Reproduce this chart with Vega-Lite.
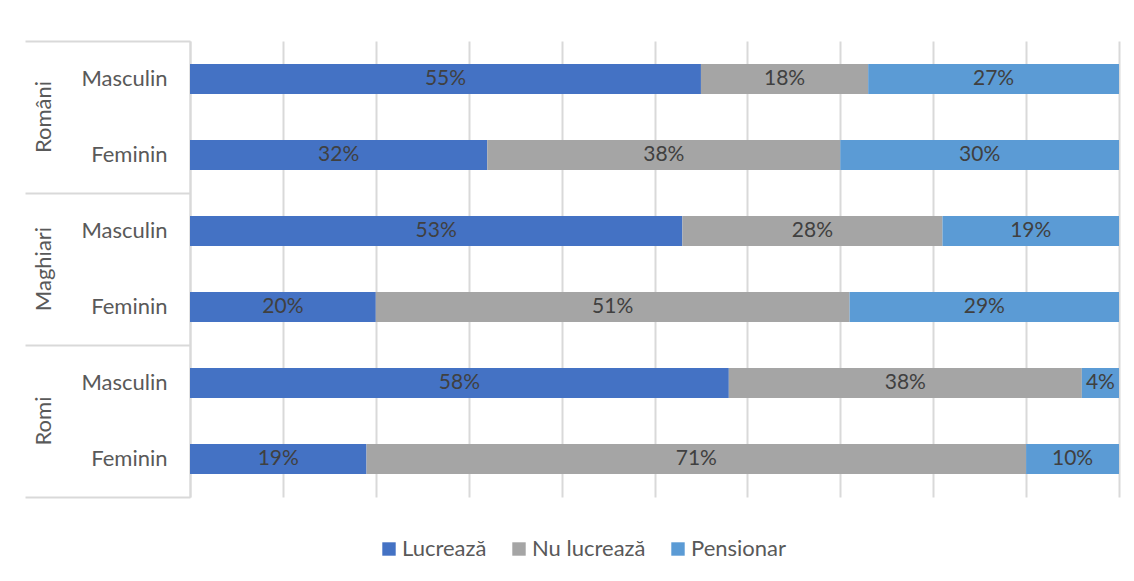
{
  "$schema": "https://vega.github.io/schema/vega-lite/v6.json",
  "width": 929,
  "height": 456,
  "autosize": {"type": "none"},
  "padding": {"left": 190, "top": 41, "right": 15, "bottom": 84},
  "background": "white",
  "config": {"view": {"stroke": null}, "font": "Lato"},
  "data": {
    "values": [
      {"grup": "Români", "rand": "Români|Masculin", "cat": "Lucrează", "val": 0.55},
      {"grup": "Români", "rand": "Români|Masculin", "cat": "Nu lucrează", "val": 0.18},
      {"grup": "Români", "rand": "Români|Masculin", "cat": "Pensionar", "val": 0.27},
      {"grup": "Români", "rand": "Români|Feminin", "cat": "Lucrează", "val": 0.32},
      {"grup": "Români", "rand": "Români|Feminin", "cat": "Nu lucrează", "val": 0.38},
      {"grup": "Români", "rand": "Români|Feminin", "cat": "Pensionar", "val": 0.30},
      {"grup": "Maghiari", "rand": "Maghiari|Masculin", "cat": "Lucrează", "val": 0.53},
      {"grup": "Maghiari", "rand": "Maghiari|Masculin", "cat": "Nu lucrează", "val": 0.28},
      {"grup": "Maghiari", "rand": "Maghiari|Masculin", "cat": "Pensionar", "val": 0.19},
      {"grup": "Maghiari", "rand": "Maghiari|Feminin", "cat": "Lucrează", "val": 0.20},
      {"grup": "Maghiari", "rand": "Maghiari|Feminin", "cat": "Nu lucrează", "val": 0.51},
      {"grup": "Maghiari", "rand": "Maghiari|Feminin", "cat": "Pensionar", "val": 0.29},
      {"grup": "Romi", "rand": "Romi|Masculin", "cat": "Lucrează", "val": 0.58},
      {"grup": "Romi", "rand": "Romi|Masculin", "cat": "Nu lucrează", "val": 0.38},
      {"grup": "Romi", "rand": "Romi|Masculin", "cat": "Pensionar", "val": 0.04},
      {"grup": "Romi", "rand": "Romi|Feminin", "cat": "Lucrează", "val": 0.19},
      {"grup": "Romi", "rand": "Romi|Feminin", "cat": "Nu lucrează", "val": 0.71},
      {"grup": "Romi", "rand": "Romi|Feminin", "cat": "Pensionar", "val": 0.10}
    ]
  },
  "layer": [
    {
      "mark": {"type": "rect", "opacity": 0},
      "encoding": {
        "y": {
          "field": "grup",
          "type": "nominal",
          "sort": ["Români", "Maghiari", "Romi"],
          "scale": {"paddingInner": 0, "paddingOuter": 0},
          "axis": {
            "orient": "left",
            "title": null,
            "domain": false,
            "ticks": true,
            "tickExtra": true,
            "bandPosition": 1,
            "tickSize": 165,
            "tickColor": "#d9d9d9",
            "tickWidth": 2,
            "labelAngle": 270,
            "labelAlign": "center",
            "labelBaseline": "alphabetic",
            "labelPadding": -25,
            "labelFontSize": 22,
            "labelColor": "#595959"
          }
        }
      }
    },
    {
      "encoding": {
        "y": {
          "field": "rand",
          "type": "nominal",
          "sort": ["Români|Masculin", "Români|Feminin", "Maghiari|Masculin", "Maghiari|Feminin", "Romi|Masculin", "Romi|Feminin"],
          "scale": {"paddingInner": 0.605, "paddingOuter": 0.3025},
          "axis": {
            "orient": "left",
            "title": null,
            "ticks": false,
            "domain": true,
            "domainColor": "#d9d9d9",
            "domainWidth": 2,
            "labelPadding": 23,
            "labelFontSize": 22,
            "labelColor": "#595959",
            "labelExpr": "split(datum.label, '|')[1]"
          }
        }
      },
      "layer": [
        {
          "mark": {"type": "bar"},
          "encoding": {
            "x": {
              "field": "val",
              "type": "quantitative",
              "stack": "zero",
              "scale": {"domain": [0, 1]},
              "axis": {
                "title": null,
                "domain": false,
                "ticks": false,
                "labels": false,
                "grid": true,
                "gridColor": "#d9d9d9",
                "gridWidth": 2,
                "values": [0, 0.1, 0.2, 0.3, 0.4, 0.5, 0.6, 0.7, 0.8, 0.9, 1]
              }
            },
            "order": {"field": "cat", "sort": "ascending"},
            "color": {
              "field": "cat",
              "type": "nominal",
              "scale": {"domain": ["Lucrează", "Nu lucrează", "Pensionar"], "range": ["#4472C4", "#A5A5A5", "#5B9BD5"]},
              "legend": {
                "orient": "none",
                "direction": "horizontal",
                "legendX": 188,
                "legendY": 497,
                "title": null,
                "symbolType": "square",
                "symbolSize": 180,
                "symbolStrokeWidth": 0,
                "symbolOpacity": 1,
                "labelFontSize": 22,
                "labelColor": "#595959",
                "labelOffset": 2,
                "columnPadding": 21,
                "padding": 0
              }
            }
          }
        },
        {
          "mark": {"type": "text", "fontSize": 21, "color": "#404040", "baseline": "middle", "align": "center"},
          "encoding": {
            "x": {"field": "val", "type": "quantitative", "stack": "zero", "bandPosition": 0.5},
            "detail": {"field": "cat", "type": "nominal"},
            "order": {"field": "cat", "sort": "ascending"},
            "text": {"field": "val", "type": "quantitative", "format": ".0%"}
          }
        }
      ]
    }
  ],
  "resolve": {"scale": {"y": "independent"}}
}
